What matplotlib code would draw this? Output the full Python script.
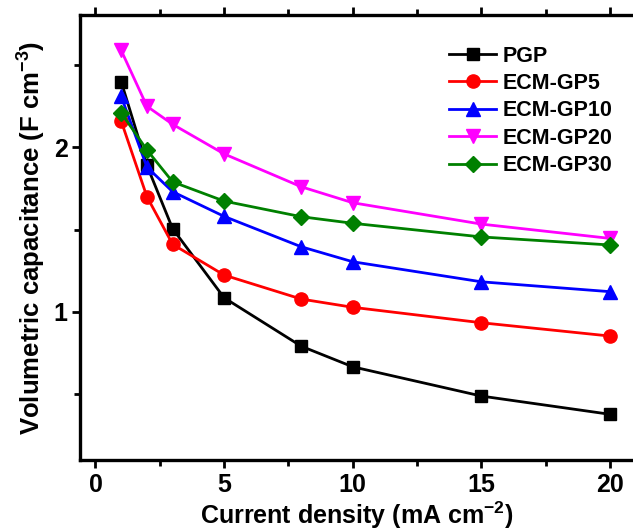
import matplotlib
matplotlib.use("Agg")
import matplotlib.pyplot as plt
from matplotlib.ticker import MultipleLocator

plt.rcParams["font.family"] = ["Liberation Sans", "DejaVu Sans"]
plt.rcParams["font.weight"] = "bold"
plt.rcParams["mathtext.default"] = "regular"

current_density = [1, 2, 3, 5, 8, 10, 15, 20]

pgp = [2.40, 1.89, 1.505, 1.085, 0.79, 0.665, 0.487, 0.376]
ecm_gp5 = [2.16, 1.70, 1.41, 1.223, 1.077, 1.027, 0.933, 0.852]
ecm_gp10 = [2.31, 1.88, 1.73, 1.58, 1.395, 1.304, 1.182, 1.122]
ecm_gp20 = [2.59, 2.25, 2.14, 1.96, 1.76, 1.663, 1.533, 1.446]
ecm_gp30 = [2.21, 1.984, 1.79, 1.673, 1.578, 1.538, 1.455, 1.406]

series = [
    ("PGP", pgp, "black", "s", 8.5),
    ("ECM-GP5", ecm_gp5, "#ff0000", "o", 9.5),
    ("ECM-GP10", ecm_gp10, "#0000ff", "^", 10),
    ("ECM-GP20", ecm_gp20, "#ff00ff", "v", 10),
    ("ECM-GP30", ecm_gp30, "#008000", "D", 8.5),
]

fig = plt.figure(figsize=(6.33, 5.32), dpi=100)
ax = fig.add_axes([0.1264, 0.1353, 0.8736, 0.8365])

for label, values, color, marker, ms in series:
    ax.plot(current_density, values, color=color, marker=marker, markersize=ms,
            linewidth=2, label=label)

ax.set_xlim(-0.6, 20.89)
ax.set_ylim(0.098, 2.805)
ax.xaxis.set_major_locator(MultipleLocator(5))
ax.xaxis.set_minor_locator(MultipleLocator(2.5))
ax.yaxis.set_major_locator(MultipleLocator(1))
ax.yaxis.set_minor_locator(MultipleLocator(0.5))

for side in ("left", "bottom", "top"):
    ax.spines[side].set_linewidth(2.4)
ax.spines["right"].set_visible(False)

ax.tick_params(axis="both", which="major", direction="out", length=6, width=2,
               labelsize=18, pad=3)
ax.tick_params(axis="both", which="minor", direction="out", length=4, width=2)
ax.tick_params(axis="x", which="both", top=True)
for lbl in ax.get_xticklabels() + ax.get_yticklabels():
    lbl.set_fontweight("bold")

ax.set_xlabel("Current density (mA cm$^{-2}$)", fontsize=18, fontweight="bold", labelpad=2)
ax.set_ylabel("Volumetric capacitance (F cm$^{-3}$)", fontsize=18.5, fontweight="bold", labelpad=4)

leg = ax.legend(loc="upper right", bbox_to_anchor=(0.998, 0.975), frameon=False,
                prop={"size": 15.5, "weight": "bold"}, handlelength=2.2,
                handletextpad=0.3, labelspacing=0.3)

fig.savefig("out.png", dpi=100)
